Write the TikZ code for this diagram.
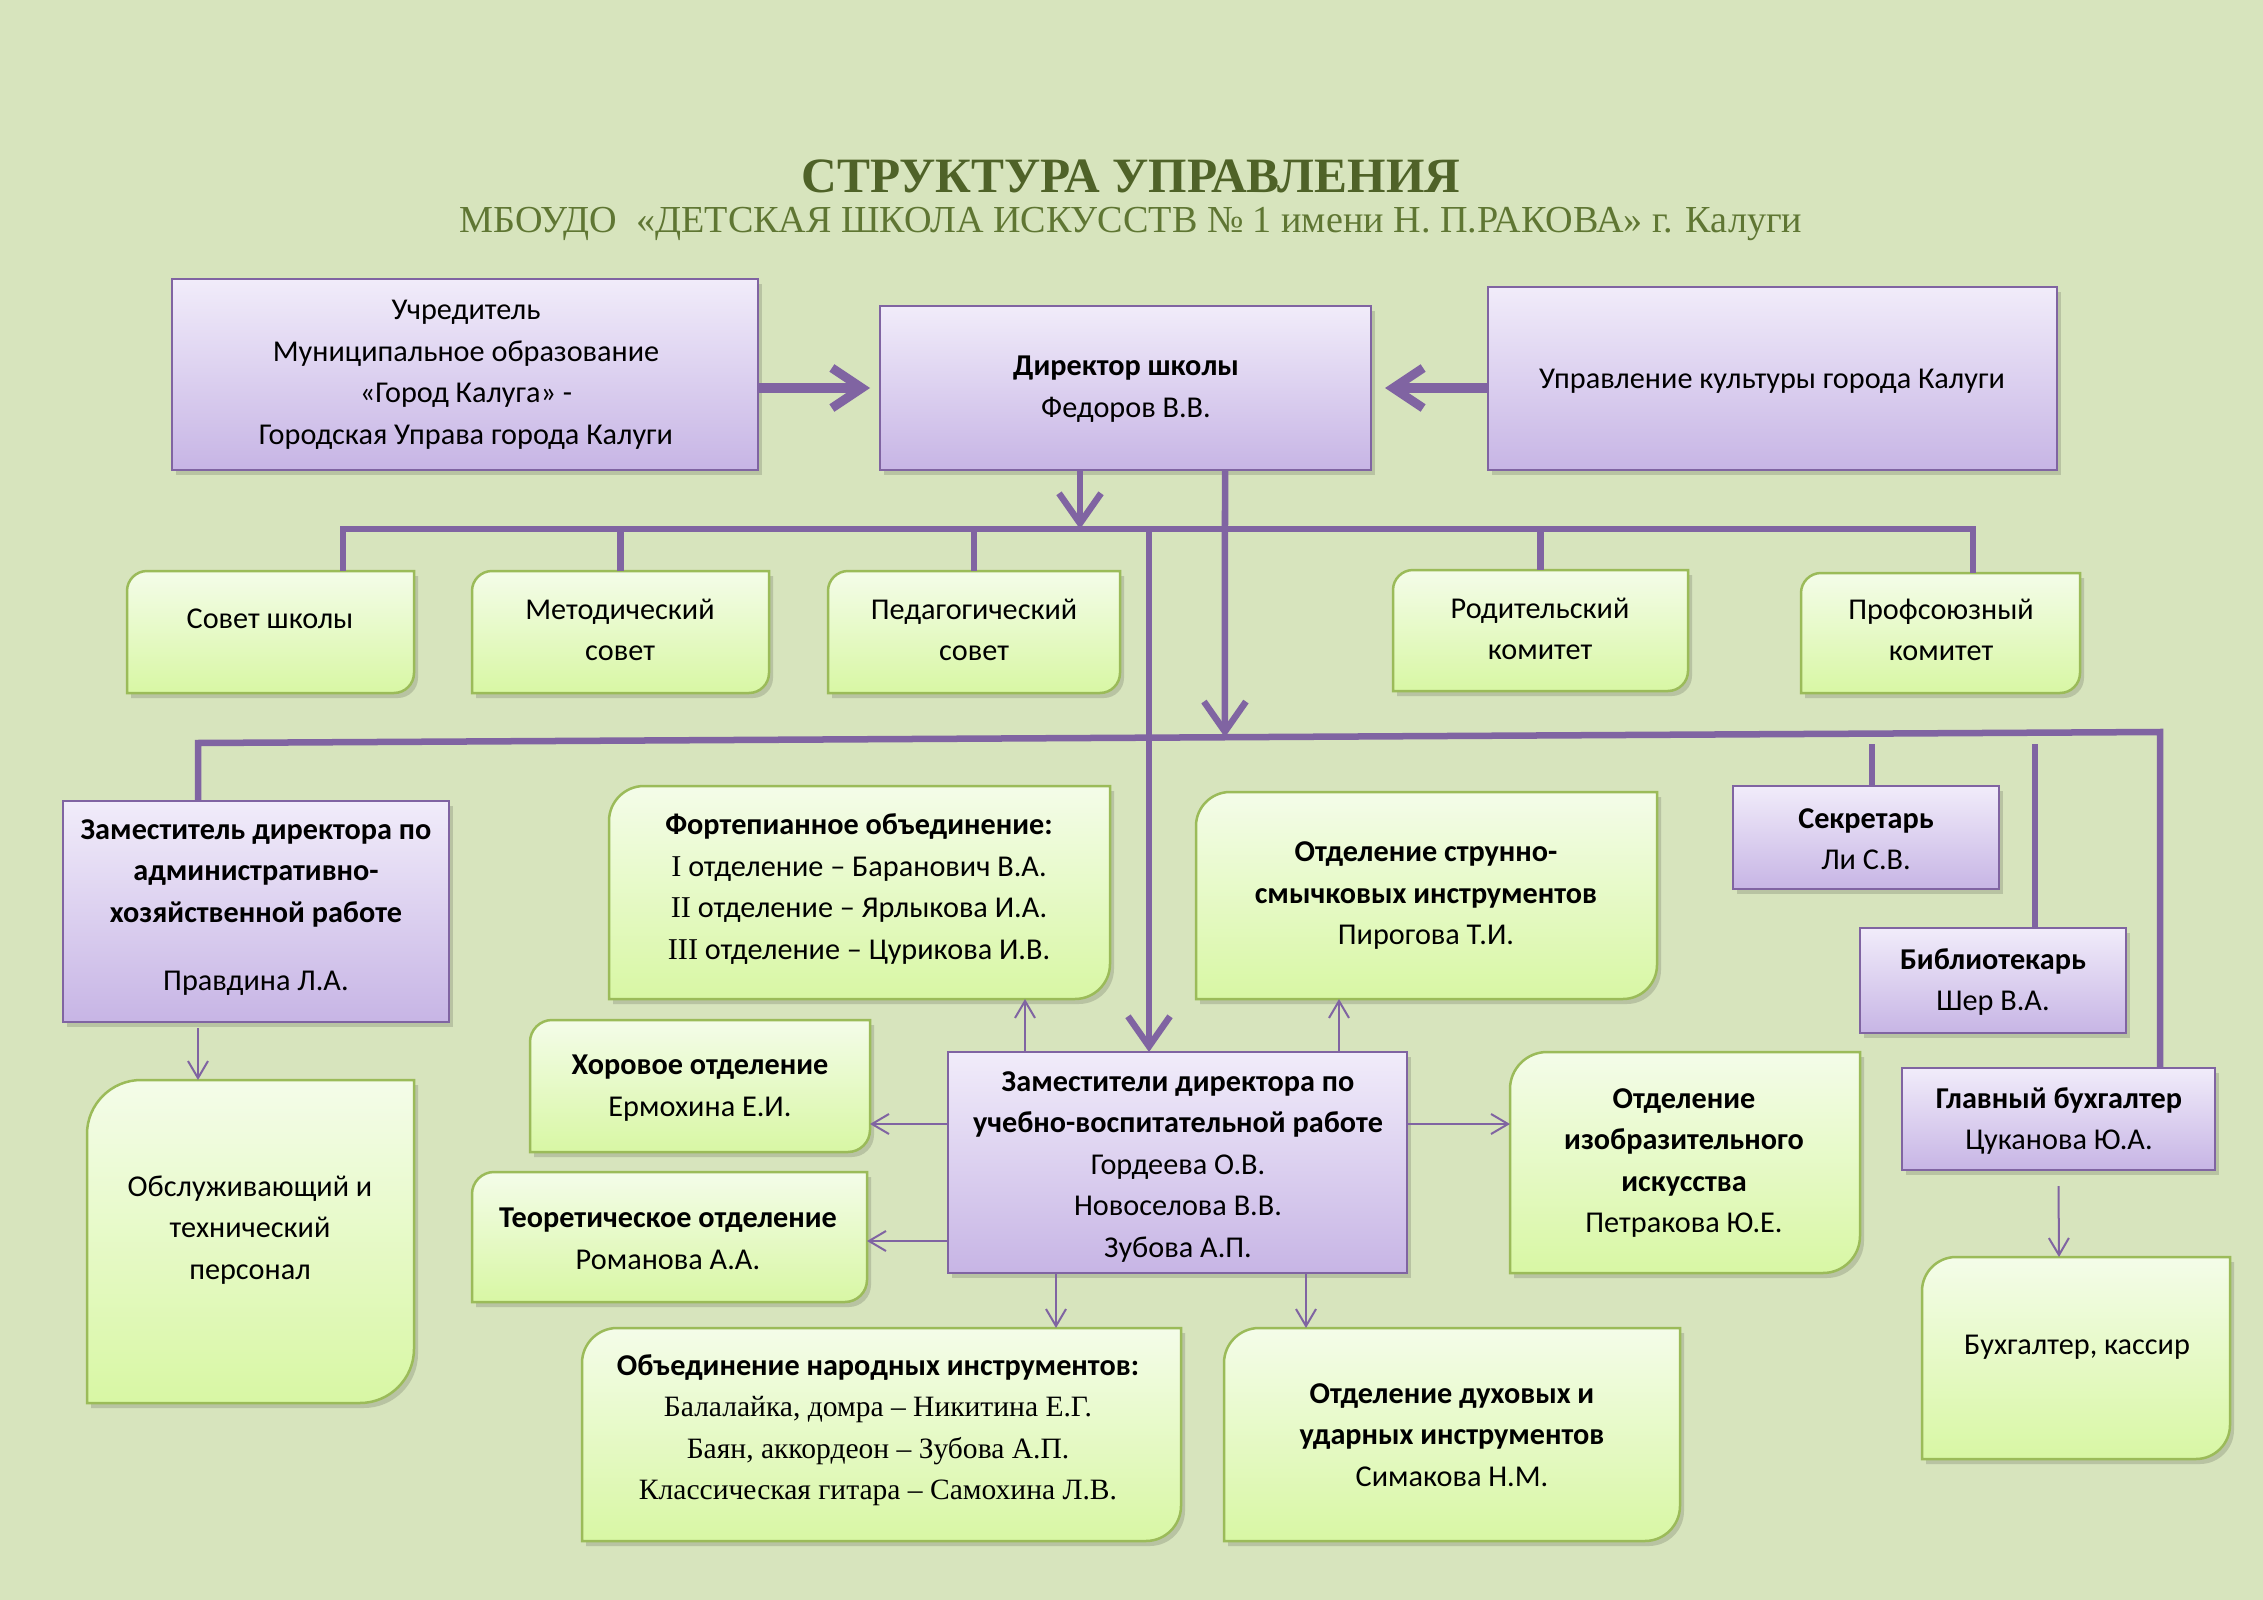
\documentclass[tikz,border=0pt]{standalone}
\usepackage{fontspec}
\setmainfont{Carlito}
\newfontfamily\tnr{Liberation Serif}
\usetikzlibrary{arrows.meta,calc}
\definecolor{bgc}{HTML}{D7E4BD}
\definecolor{lc}{HTML}{8064A2}
\definecolor{ptop}{HTML}{F1ECFA}
\definecolor{pbot}{HTML}{C7B5E5}
\definecolor{pbd}{HTML}{8064A2}
\definecolor{gtop}{HTML}{F4FCE9}
\definecolor{gbot}{HTML}{D8F7A4}
\definecolor{gbd}{HTML}{9BBB59}
\definecolor{titlec}{HTML}{4F6228}
\definecolor{subc}{HTML}{5F7633}
\tikzset{
 shd/.style={fill=black,opacity=0.14},
 pboxs/.style={top color=ptop,bottom color=pbot,draw=pbd,line width=0.022cm},
 gboxs/.style={top color=gtop,bottom color=gbot,draw=gbd,line width=0.025cm},
 anch/.style={inner sep=0pt,outer sep=0pt,draw=none},
 txt/.style={align=center,inner sep=0pt,font=\fontsize{8.6}{11.8}\selectfont},
 bus/.style={draw=lc,line width=0.065cm,line join=miter},
 bigarr/.style={bus,-{Straight Barb[length=0.3cm,width=0.42cm]}},
 hugearr/.style={draw=lc,line width=0.09cm,-{Straight Barb[length=0.3cm,width=0.4cm]}},
 thinarr/.style={draw=lc,line width=0.02cm,-{Straight Barb[length=0.17cm,width=0.2cm]}},
}
\newcommand\PBox[5]{%
 \fill[shd] ({#2+4},{#3+5}) rectangle ({#4+4},{#5+5});
 \shadedraw[pboxs] (#2,#3) rectangle (#4,#5);
 \node[anch,minimum width={(#4-#2)*0.01cm},minimum height={(#5-#3)*0.01cm}] (#1) at ({(#2+#4)/2},{(#3+#5)/2}) {};}
\newcommand\GBox[6]{%
 \fill[shd,shift={(4,5)}] (#2,#5) -- (#2,{#3+#6}) .. controls (#2,{#3+0.45*#6}) and ({#2+0.45*#6},#3) .. ({#2+#6},#3) -- (#4,#3) -- (#4,{#5-#6}) .. controls (#4,{#5-0.45*#6}) and ({#4-0.45*#6},#5) .. ({#4-#6},#5) -- cycle;
 \shadedraw[gboxs] (#2,#5) -- (#2,{#3+#6}) .. controls (#2,{#3+0.45*#6}) and ({#2+0.45*#6},#3) .. ({#2+#6},#3) -- (#4,#3) -- (#4,{#5-#6}) .. controls (#4,{#5-0.45*#6}) and ({#4-0.45*#6},#5) .. ({#4-#6},#5) -- cycle;
 \node[anch,minimum width={(#4-#2)*0.01cm},minimum height={(#5-#3)*0.01cm}] (#1) at ({(#2+#4)/2},{(#3+#5)/2}) {};}
\begin{document}
\begin{tikzpicture}[x=0.01cm,y=-0.01cm]
\useasboundingbox (0,0) rectangle (2263,1600);
\fill[bgc] (0,0) rectangle (2263,1600);
\node[inner sep=0pt,text=titlec,font=\tnr\bfseries\fontsize{14.05}{16}\selectfont] (title) at (1131,176) {СТРУКТУРА УПРАВЛЕНИЯ};
\node[inner sep=0pt,text=subc,font=\tnr\fontsize{10.85}{13}\selectfont] (subtitle) at (1131,224) {МБОУДО \ «ДЕТСКАЯ ШКОЛА ИСКУССТВ № 1 имени Н. П.РАКОВА» г. Калуги};
% purple boxes
\PBox{ucr}{172}{279}{758}{470}
\PBox{dir}{880}{306}{1371}{470}
\PBox{upr}{1488}{287}{2057}{470}
\PBox{ahr}{63}{801}{449}{1022}
\PBox{uvr}{948}{1052}{1407}{1273}
\PBox{sek}{1733}{786}{1999}{889}
\PBox{bib}{1860}{928}{2126}{1033}
\PBox{glb}{1902}{1068}{2215}{1170}
% green boxes
\GBox{sovet}{127}{571}{414}{693}{20}
\GBox{metod}{472}{571}{769}{693}{20}
\GBox{ped}{828}{571}{1120}{693}{20}
\GBox{rod}{1393}{570}{1688}{691}{20}
\GBox{prof}{1801}{573}{2080}{693}{20}
\GBox{obs}{87}{1080}{414}{1403}{54}
\GBox{fort}{609}{786}{1110}{999}{35}
\GBox{strun}{1196}{792}{1657}{999}{34}
\GBox{hor}{530}{1020}{870}{1152}{22}
\GBox{teor}{472}{1172}{867}{1302}{22}
\GBox{izo}{1510}{1052}{1860}{1273}{37}
\GBox{nar}{582}{1328}{1181}{1541}{35}
\GBox{duh}{1224}{1328}{1680}{1541}{35}
\GBox{bux}{1922}{1257}{2230}{1459}{34}
% texts
\node[txt] (t-ucr) at (466,375) {Учредитель\\Муниципальное образование\\«Город Калуга» -\\Городская Управа города Калуги};
\node[txt] (t-dir) at (1126,389) {\textbf{Директор школы}\\Федоров В.В.};
\node[txt] (t-upr) at (1772,381) {Управление культуры города Калуги};
\node[txt] (t-sovet) at (270,619) {Совет школы};
\node[txt] (t-metod) at (620,630) {Методический\\совет};
\node[txt] (t-ped) at (974,630) {Педагогический\\совет};
\node[txt] (t-rod) at (1540,629) {Родительский\\комитет};
\node[txt] (t-prof) at (1941,630) {Профсоюзный\\комитет};
\node[txt,font=\bfseries\fontsize{8.6}{11.8}\selectfont] (t-ahr) at (256,873) {Заместитель директора по\\административно-\\хозяйственной работе};
\node[txt] (t-ahr2) at (256,983) {Правдина Л.А.};
\node[txt] (t-obs) at (250,1230) {Обслуживающий и\\технический\\персонал};
\node[txt] (t-fort) at (859,889) {\textbf{Фортепианное объединение:}\\{\tnr I} отделение – Баранович В.А.\\{\tnr II} отделение – Ярлыкова И.А.\\{\tnr III} отделение – Цурикова И.В.};
\node[txt] (t-strun) at (1426,896) {\textbf{Отделение струнно-}\\\textbf{смычковых инструментов}\\Пирогова Т.И.};
\node[txt] (t-hor) at (700,1088) {\textbf{Хоровое отделение}\\Ермохина Е.И.};
\node[txt] (t-uvr) at (1178,1167) {\textbf{Заместители директора по}\\\textbf{учебно-воспитательной работе}\\Гордеева О.В.\\Новоселова В.В.\\Зубова А.П.};
\node[txt] (t-teor) at (668,1239) {\textbf{Теоретическое отделение}\\Романова А.А.};
\node[txt] (t-izo) at (1684,1163) {\textbf{Отделение}\\\textbf{изобразительного}\\\textbf{искусства}\\Петракова Ю.Е.};
\node[txt] (t-nar) at (878,1430) {\textbf{Объединение народных инструментов:}\\{\tnr\fontsize{8.4}{11.8}\selectfont Балалайка, домра – Никитина Е.Г.}\\{\tnr\fontsize{8.4}{11.8}\selectfont Баян, аккордеон – Зубова А.П.}\\{\tnr\fontsize{8.4}{11.8}\selectfont Классическая гитара – Самохина Л.В.}};
\node[txt] (t-duh) at (1452,1435) {\textbf{Отделение духовых и}\\\textbf{ударных инструментов}\\Симакова Н.М.};
\node[txt] (t-sek) at (1866,839) {\textbf{Секретарь}\\Ли С.В.};
\node[txt] (t-bib) at (1993,982) {\textbf{Библиотекарь}\\Шер В.А.};
\node[txt] (t-glb) at (2059,1121) {\textbf{Главный бухгалтер}\\Цуканова Ю.А.};
\node[txt] (t-bux) at (2077,1347) {Бухгалтер, кассир};
% connectors
\coordinate (ub1) at (343,529);
\coordinate (ub2) at (1973,529);
\coordinate (ubm) at (1149,529);
\coordinate (lb1) at (198,743);
\coordinate (lb2) at (2160,732);
\coordinate (ls1) at (1872,744);
\coordinate (ls2) at (2035,744);
\coordinate (da) at ($(dir.south west)+(200,0)$);
\coordinate (db) at ($(dir.south west)+(345,0)$);
\draw[bus] (ub1 |- sovet.north) -- (ub1) -- (ub2) -- (ub2 |- prof.north);
\draw[bus] (metod.north) -- (metod.north |- ub1);
\draw[bus] (ped.north) -- (ped.north |- ub1);
\draw[bus] (rod.north) -- (rod.north |- ub1);
\draw[bus] (lb1 |- ahr.north) -- (lb1) -- (lb2) -- (lb2 |- glb.north);
\draw[bus] (ls1) -- (ls1 |- sek.north);
\draw[bus] (ls2) -- (ls2 |- bib.north);
\draw[bigarr] (da) -- (da |- ub1);
\draw[bigarr] (ubm) -- (ubm |- uvr.north);
\draw[bigarr] (db) -- ($(lb1)!0.5234!(lb2)$);
\draw[hugearr] (ucr.east |- dir.west) -- ($(dir.west)+(-10,0)$);
\draw[hugearr] (upr.west |- dir.east) -- ($(dir.east)+(14,0)$);
\draw[thinarr] ($(uvr.north west)+(77,0)$) -- ($(fort.south west)+(416,0)$);
\draw[thinarr] ($(uvr.north west)+(391,0)$) -- ($(strun.south west)+(143,0)$);
\draw[thinarr] ($(uvr.north west)+(0,72)$) -- ($(hor.north east)+(0,104)$);
\draw[thinarr] ($(uvr.north west)+(0,189)$) -- ($(teor.north east)+(0,69)$);
\draw[thinarr] ($(uvr.north east)+(0,72)$) -- ($(izo.north west)+(0,72)$);
\draw[thinarr] ($(uvr.south west)+(108,0)$) -- ($(nar.north west)+(474,0)$);
\draw[thinarr] ($(uvr.south west)+(358,0)$) -- ($(duh.north west)+(82,0)$);
\draw[thinarr] ($(ahr.south west)+(135,6)$) -- ($(obs.north west)+(111,0)$);
\draw[thinarr] ($(glb.south)+(0,16)$) -- ($(bux.north west)+(137,0)$);
\end{tikzpicture}
\end{document}
